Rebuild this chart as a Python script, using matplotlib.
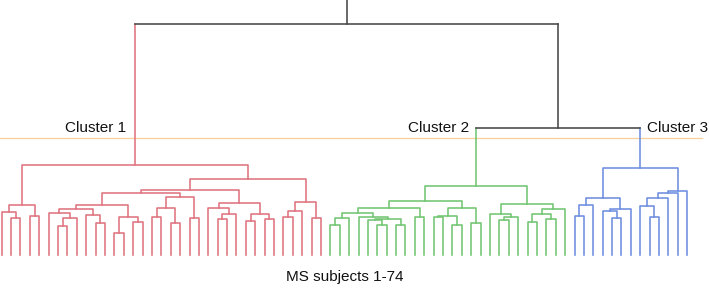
import matplotlib
matplotlib.use("Agg")
import matplotlib.pyplot as plt

# dendrogram of 74 MS subjects, node = [merge height, left, right], leaf = index
# cluster 1 (red)
c1_a = [21.6, [18.6, 0, [16.0, 1, 2]], [16.9, 3, 4]]
c1_b = [21.6, [19.9, [18.2, 5, [16.0, [12.6, 6, 7], 8]], [17.3, 9, [13.9, 10, 11]]],
        [16.5, [9.5, 12, 13], [14.3, 14, 15]]]
c1_c = [25.1, [20.3, [16.5, 16, 17], [13.9, 18, 19]], [16.0, 20, 21]]
c1_d = [22.5, [20.3, 22, [17.7, [15.6, 23, 24], 25]], [17.7, [14.7, 26, 27], [15.6, 28, 29]]]
c1_e = [22.9, [19.0, [16.5, 30, 31], 32], [16.0, 33, 34]]
cluster1 = [39.0, c1_a, [32.9, [28.1, [26.8, c1_b, c1_c], c1_d], c1_e]]

# cluster 2 (green)
c2_a = [18.2, [16.0, [13.0, 35, 36], 37],
        [16.5, 38, [15.6, [15.2, 39, [13.0, 40, 41]], [13.0, 42, 43]]]]
c2_b = [20.3, [16.9, [16.5, 46, 47], [13.0, 48, 49]], [13.9, 50, 51]]
c2_c = [17.7, 52, [16.5, [15.2, 53, 54], 55]]
c2_d = [19.9, [17.7, [14.3, 56, 57], [15.6, 58, 59]], 60]
cluster2 = [29.9, [23.4, [20.3, c2_a, [16.5, 44, 45]], c2_b], [22.1, c2_c, c2_d]]

# cluster 3 (blue)
c3_a = [24.7, [21.6, [16.9, 61, 62], 63], [19.9, [19.0, 64, [16.0, 65, 66]], 67]]
c3_b = [27.7, [26.8, [24.7, [21.2, 68, [16.5, 69, 70]], 71], 72], 73]
cluster3 = [37.7, c3_a, c3_b]

h_23 = 55.0      # cluster 2 + cluster 3
h_root = 100.0
cut = 50.6       # cut height for three clusters
n_leaves = 74
labels = ["Cluster 1", "Cluster 2", "Cluster 3"]

RED = "#df7480"
GREEN = "#72c572"
BLUE = "#6e8ee0"
DARK = "#474747"
ORANGE = "#f8cf98"
LW = 1.15

fig = plt.figure(figsize=(7.09, 2.91), dpi=100)
ax = fig.add_axes([0, 0, 1, 1])
ax.set_xlim(-0.181, 75.32)
ax.set_ylim(-15.6, 110.4)
ax.axis("off")


def draw(node, color):
    if isinstance(node, int):
        return node, 0.0
    h, a, b = node
    xa, ha = draw(a, color)
    xb, hb = draw(b, color)
    ax.plot([xa, xa, xb, xb], [ha, h, h, hb], color=color, lw=LW)
    return (xa + xb) / 2, h


ax.axhline(cut, xmin=0, xmax=0.99, color=ORANGE, lw=0.9, zorder=0)

x1, h1 = draw(cluster1, RED)
x2, h2 = draw(cluster2, GREEN)
x3, h3 = draw(cluster3, BLUE)

x23 = (x2 + x3) / 2
ax.plot([x2, x2], [h2, h_23], color=GREEN, lw=LW)
ax.plot([x3, x3], [h3, h_23], color=BLUE, lw=LW)
ax.plot([x2, x3], [h_23, h_23], color=DARK, lw=LW)

xroot = (x1 + x23) / 2
ax.plot([x1, x1], [h1, h_root], color=RED, lw=LW)
ax.plot([x23, x23], [h_23, h_root], color=DARK, lw=LW)
ax.plot([x1, x23], [h_root, h_root], color=DARK, lw=LW)
ax.plot([xroot, xroot], [h_root, 112], color=DARK, lw=LW)

font = dict(family=["Liberation Sans", "DejaVu Sans"], fontsize=11, color="#111111")
ax.text(x1 - 0.9, 55.0, labels[0], ha="right", va="center", **font)
ax.text(x2 - 0.7, 55.0, labels[1], ha="right", va="center", **font)
ax.text(x3 + 0.75, 55.0, labels[2], ha="left", va="center", **font)
ax.text((n_leaves - 1) / 2, -9.5, "MS subjects 1-74", ha="center", va="center", **font)

fig.savefig("out.png", dpi=100)
